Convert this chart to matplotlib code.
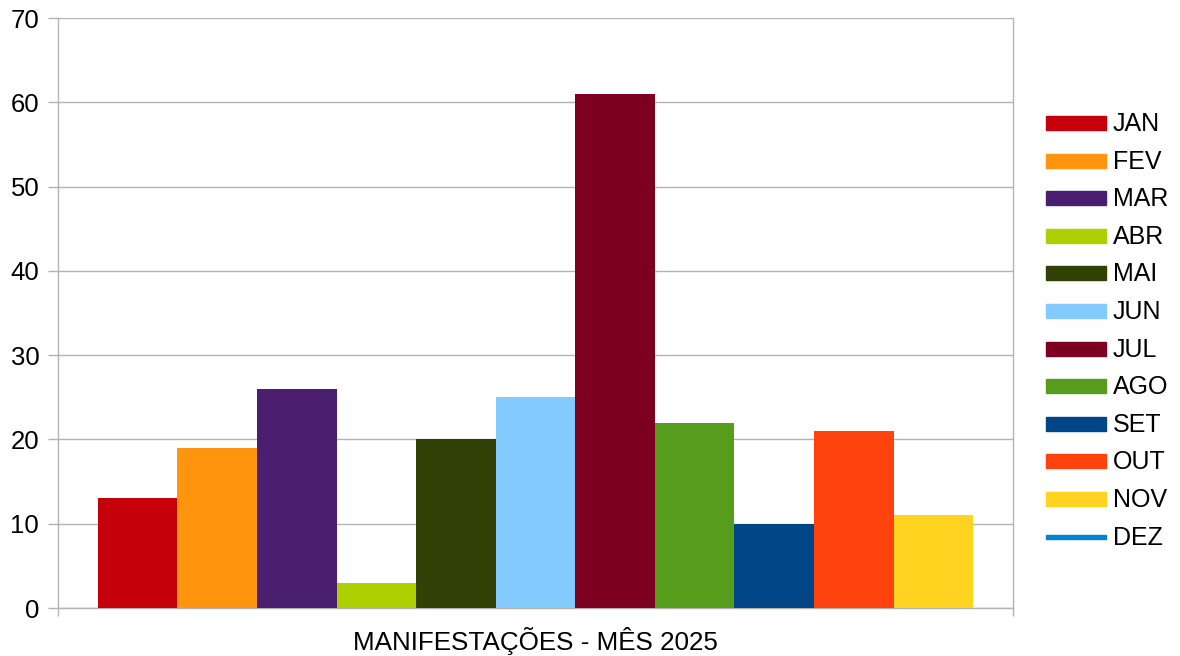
import matplotlib.pyplot as plt
from matplotlib.patches import Rectangle

plt.rcParams['font.family'] = ['Liberation Sans', 'DejaVu Sans']

# dados do gráfico
meses = ["JAN", "FEV", "MAR", "ABR", "MAI", "JUN", "JUL", "AGO", "SET", "OUT", "NOV", "DEZ"]
valores = [13, 19, 26, 3, 20, 25, 61, 22, 10, 21, 11, None]  # DEZ sem dados
cores = ["#c5000b", "#ff950e", "#4b1f6f", "#aecf00", "#314004", "#83caff",
         "#7e0021", "#579d1c", "#004586", "#ff420e", "#ffd320", "#0084d1"]
categoria = "MANIFESTAÇÕES - MÊS 2025"
yticks = [0, 10, 20, 30, 40, 50, 60, 70]

W, H = 1180, 656
fig = plt.figure(figsize=(W / 100, H / 100), dpi=100)
ax = fig.add_axes([58 / W, 1 - 608 / H, (1013 - 58) / W, (608 - 18) / H])

grade = "#b3b3b3"
com_dados = [(m, v, c) for m, v, c in zip(meses, valores, cores) if v is not None]
n = len(com_dados)
for i, (m, v, c) in enumerate(com_dados):
    ax.bar(i - (n - 1) / 2, v, width=1.0, color=c, zorder=3)

ax.set_xlim(-n / 2 - 0.5, n / 2 + 0.5)
ax.set_ylim(0, 70)
ax.set_yticks(yticks)
ax.yaxis.grid(True, color=grade, linewidth=1, zorder=0)
ax.set_xticks([-n / 2 - 0.5, n / 2 + 0.5])
ax.set_xticklabels(["", ""])
ax.tick_params(axis='y', length=7.5, width=1, color=grade, pad=6, labelsize=18.5)
ax.tick_params(axis='x', length=6, width=1, color=grade)
for s in ["left", "right", "bottom"]:
    ax.spines[s].set_color(grade)
    ax.spines[s].set_linewidth(1)
ax.spines["top"].set_visible(False)
ax.spines["right"].set_bounds(0, 70)

fig.text(535.5 / W, 1 - 641 / H, categoria, ha="center", va="center", fontsize=18.7)

# legenda desenhada à mão
y0, passo = 123, 37.6
for k, (m, v, c) in enumerate(zip(meses, valores, cores)):
    yc = y0 + k * passo
    h = 14 if v is not None else 4
    fig.add_artist(Rectangle((1046 / W, 1 - (yc + h / 2) / H), 60 / W, h / H,
                             transform=fig.transFigure, color=c))
    fig.text(1113 / W, 1 - (yc + 1) / H, m, ha="left", va="center", fontsize=18)

fig.savefig("out.png", dpi=100)
